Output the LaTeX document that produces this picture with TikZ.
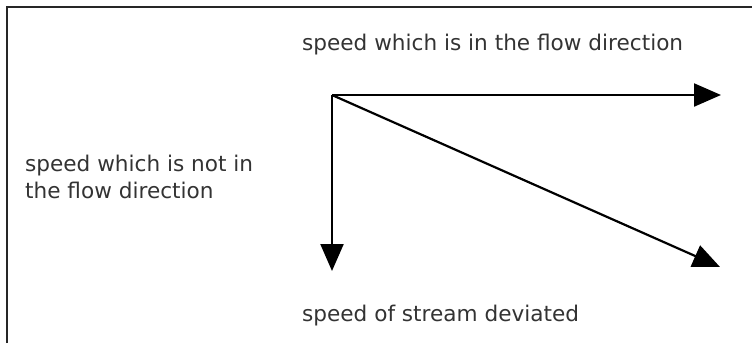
\documentclass[tikz,border=0pt]{standalone}
\usepackage{fontspec}
\setmainfont{DejaVu Sans}
\usetikzlibrary{arrows.meta}
\definecolor{txt}{HTML}{333333}
\tikzset{
  lbl/.style={anchor=base west, inner sep=0pt, text=txt, font=\fontsize{21.6}{27}\selectfont},
  vec/.style={line width=2.2pt, -{Triangle[length=27pt,width=23pt]}},
  frame/.style={line width=2pt, draw=black!85}
}
\begin{document}
\begin{tikzpicture}[x=1pt,y=-1pt]
\useasboundingbox (0,0) rectangle (752,343);
\draw[frame] (7,343) -- (7,7) -- (752,7);
\coordinate (o) at (332,95);
\coordinate (h) at (721,95);
\coordinate (v) at (332,271);
\coordinate (d) at (720,267);
\draw[vec] (o) -- (h);
\draw[vec] (o) -- (v);
\draw[vec] (o) -- (d);
\node[lbl] (top) at (302,50) {speed which is in the flow direction};
\node[lbl, align=left] (left) at (25,198) {speed which is not in\\the flow direction};
\node[lbl] (bot) at (302,321) {speed of stream deviated};
\end{tikzpicture}
\end{document}
